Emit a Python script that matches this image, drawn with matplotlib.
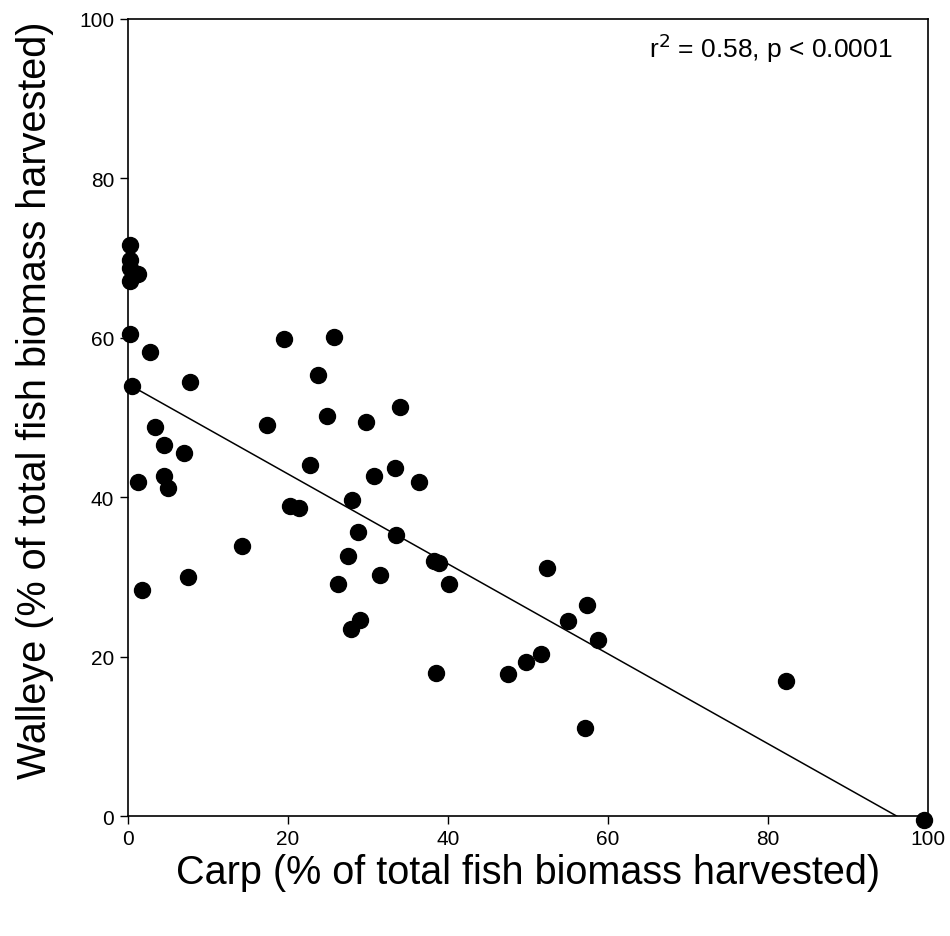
import matplotlib
matplotlib.use("Agg")
import matplotlib.pyplot as plt

plt.rcParams['font.family'] = ['Liberation Sans', 'DejaVu Sans']

# carp % vs walleye % of harvested biomass
carp = [0.3, 0.3, 0.2, 1.3, 0.2, 0.3, 2.75, 0.5, 7.7, 3.4,
        4.5, 7.0, 1.2, 4.5, 5.0, 14.3, 7.5, 1.8, 19.5, 25.8,
        23.8, 17.4, 24.9, 29.8, 34.0, 22.8, 30.75, 33.4, 36.4, 20.2,
        21.4, 28.0, 28.7, 33.5, 27.5, 38.3, 38.9, 31.5, 40.1, 26.2,
        29.0, 27.9, 52.4, 57.4, 55.0, 58.8, 51.6, 49.8, 47.5, 38.5,
        57.1, 82.25, 99.5]
walleye = [71.6, 69.7, 68.8, 68.0, 67.1, 60.5, 58.2, 54.0, 54.5, 48.8,
           46.5, 45.6, 41.9, 42.6, 41.1, 33.9, 30.0, 28.3, 59.8, 60.1,
           55.3, 49.0, 50.2, 49.4, 51.3, 44.1, 42.7, 43.7, 41.9, 38.9,
           38.6, 39.6, 35.6, 35.3, 32.6, 32.0, 31.7, 30.3, 29.1, 29.1,
           24.6, 23.5, 31.1, 26.5, 24.5, 22.1, 20.3, 19.3, 17.8, 17.9,
           11.1, 16.9, -0.5]

# regression line as drawn (ends where it hits the x axis)
fit_x = [0, 96.1]
fit_y = [54.2, 0]

ticks = [0, 20, 40, 60, 80, 100]

fig = plt.figure(figsize=(9.5, 9.37), dpi=100)
ax = fig.add_axes([0.1347, 0.128, 0.842, 0.8507])

ax.plot(fit_x, fit_y, color='black', lw=1.1, zorder=2)
ax.plot(carp, walleye, 'o', color='black', markersize=11.5, zorder=3, clip_on=False)

ax.set_xlim(0, 100)
ax.set_ylim(0, 100)
ax.set_xticks(ticks)
ax.set_yticks(ticks)
ax.tick_params(direction='out', length=6, width=1, labelsize=15, pad=4)
ax.tick_params(axis='x', pad=3)
for s in ax.spines.values():
    s.set_linewidth(1.2)

ax.set_xlabel('Carp (% of total fish biomass harvested)', fontsize=28.5, labelpad=4)
ax.set_ylabel('Walleye (% of total fish biomass harvested)', fontsize=28.5, labelpad=18)
ax.yaxis.label.set_y(0.523)

ax.text(0.956, 0.965, r'r$^2$ = 0.58, p < 0.0001', transform=ax.transAxes,
        fontsize=19, va='center', ha='right')

fig.savefig('out.png', dpi=100)
